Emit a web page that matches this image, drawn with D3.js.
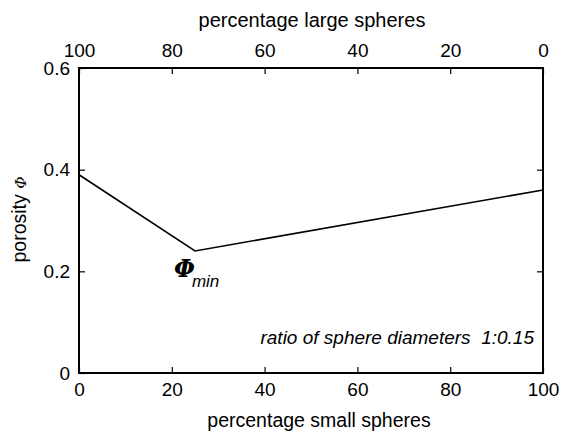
<!DOCTYPE html>
<html>
<head>
<meta charset="utf-8">
<script src="https://cdn.jsdelivr.net/npm/d3@7"></script>
<style>
  html, body { margin: 0; padding: 0; background: #fff; }
  text { font-family: "Liberation Sans", Arial, Helvetica, sans-serif; fill: #000; }
</style>
</head>
<body>
<svg id="chart" width="564" height="434"></svg>
<script>
// Porosity of a binary sphere packing vs. mixture fraction
const smallPct = [0, 25, 100];
const porosity = [0.39, 0.24, 0.36];
const xTicks = [0, 20, 40, 60, 80, 100];
const yTicks = [0, 0.2, 0.4, 0.6];
const topTicks = [100, 80, 60, 40, 20, 0];

const svg = d3.select("#chart");
const m = { left: 79, right: 543, top: 68, bottom: 373 };

const x = d3.scaleLinear().domain([0, 100]).range([m.left, m.right]);
const xTop = d3.scaleLinear().domain([100, 0]).range([m.left, m.right]);
const y = d3.scaleLinear().domain([0, 0.6]).range([m.bottom, m.top]);

const tickLen = 6;
const fmtY = v => v === 0 ? "0" : d3.format(".1f")(v);

function styleAxis(g) {
  g.select(".domain").remove();
  g.selectAll(".tick line").attr("stroke", "#000").attr("stroke-width", 1.2);
  g.selectAll(".tick text").style("font-size", "19px");
}

// bottom axis: ticks pointing inward
svg.append("g")
  .attr("transform", `translate(0,${m.bottom})`)
  .call(d3.axisBottom(x).tickValues(xTicks).tickSizeInner(-tickLen).tickSizeOuter(0).tickPadding(10))
  .call(styleAxis);

// top axis (large spheres share, reversed)
svg.append("g")
  .attr("transform", `translate(0,${m.top})`)
  .call(d3.axisTop(xTop).tickValues(topTicks).tickSizeInner(-tickLen).tickSizeOuter(0).tickPadding(11))
  .call(styleAxis);

// left axis
svg.append("g")
  .attr("transform", `translate(${m.left},0)`)
  .call(d3.axisLeft(y).tickValues(yTicks).tickFormat(fmtY).tickSizeInner(-tickLen).tickSizeOuter(0).tickPadding(9))
  .call(styleAxis);

// right axis: marks only
svg.append("g")
  .attr("transform", `translate(${m.right},0)`)
  .call(d3.axisRight(y).tickValues(yTicks).tickFormat("").tickSizeInner(-tickLen).tickSizeOuter(0))
  .call(styleAxis);

// plot frame
svg.append("rect")
  .attr("x", m.left).attr("y", m.top)
  .attr("width", m.right - m.left).attr("height", m.bottom - m.top)
  .attr("fill", "none").attr("stroke", "#000").attr("stroke-width", 2);

// porosity curve
const line = d3.line().x((d, i) => x(smallPct[i])).y(d => y(d));
svg.append("path")
  .datum(porosity)
  .attr("d", line)
  .attr("fill", "none").attr("stroke", "#000").attr("stroke-width", 1.6);

// axis titles
svg.append("text")
  .attr("x", 319).attr("y", 427)
  .attr("text-anchor", "middle").style("font-size", "19.5px")
  .text("percentage small spheres");

svg.append("text")
  .attr("x", 312).attr("y", 27)
  .attr("text-anchor", "middle").style("font-size", "20px")
  .text("percentage large spheres");

const yl = svg.append("text")
  .attr("transform", `translate(26,${(m.top + m.bottom) / 2 - 1}) rotate(-90)`)
  .attr("text-anchor", "middle").style("font-size", "19.5px");
yl.append("tspan").text("porosity ");
yl.append("tspan")
  .style("font-family", "'DejaVu Serif', 'Liberation Serif', serif")
  .style("font-style", "italic").style("font-size", "15px").text("Φ");

// minimum marker label
const iMin = porosity.indexOf(d3.min(porosity));
const lbl = svg.append("text")
  .attr("x", x(smallPct[iMin]) - 21)
  .attr("y", y(porosity[iMin]) + 26);
lbl.append("tspan")
  .style("font-family", "'DejaVu Serif', 'Liberation Serif', serif")
  .style("font-style", "italic").style("font-weight", "bold").style("font-size", "24px")
  .text("Φ");
lbl.append("tspan")
  .attr("dx", -3).attr("dy", 10)
  .style("font-style", "italic").style("font-size", "17px")
  .text("min");

// annotation
svg.append("text")
  .attr("x", 534).attr("y", 344)
  .attr("text-anchor", "end")
  .style("font-style", "italic").style("font-size", "19px")
  .text("ratio of sphere diameters\u00a0\u00a01:0.15");
</script>
</body>
</html>
